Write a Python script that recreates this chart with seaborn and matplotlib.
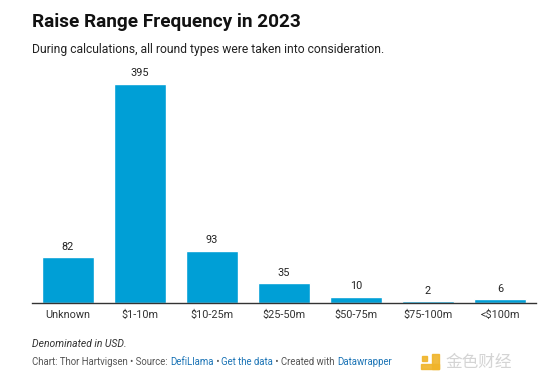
import matplotlib
matplotlib.use("Agg")
import matplotlib.pyplot as plt
import seaborn as sns
import pandas as pd
from matplotlib.patches import Rectangle

categories = ["Unknown", "$1-10m", "$10-25m", "$25-50m", "$50-75m", "$75-100m", "<$100m"]
counts = [82, 395, 93, 35, 10, 2, 6]

df = pd.DataFrame({"range": categories, "count": counts})

sns.set_theme(style="white")
plt.rcParams["font.family"] = ["Roboto", "DejaVu Sans"]

W, H = 541, 379
fig = plt.figure(figsize=(W / 100, H / 100), dpi=100)
ax = fig.add_axes([32 / W, 1 - 302.5 / H, 504 / W, 232.5 / H])

sns.barplot(data=df, x="range", y="count", color="#009fd6", saturation=1, width=0.71, ax=ax)
ax.set_ylim(0, 420.3)
ax.set_xlim(-0.5, len(categories) - 0.5)
ax.set_xlabel("")
ax.set_ylabel("")
ax.set_yticks([])
for s in ["top", "right", "left"]:
    ax.spines[s].set_visible(False)
ax.spines["bottom"].set_color("#333333")
ax.spines["bottom"].set_linewidth(1.0)
ax.tick_params(axis="x", length=0, pad=5.5, labelsize=7.8, colors="#333333")
ax.set_facecolor("white")

for i, v in enumerate(counts):
    ax.annotate(str(v), (i, v), xytext=(0, 4), textcoords="offset points",
                ha="center", va="bottom", fontsize=7.8, color="#222222")

fig.text(32 / W, 1 - 22 / H, "Raise Range Frequency in 2023", fontsize=13.65,
         fontweight="bold", color="#111111", ha="left", va="center")
fig.text(32 / W, 1 - 49 / H, "During calculations, all round types were taken into consideration.",
         fontsize=8.7, color="#222222", ha="left", va="center")
fig.text(32 / W, 1 - 344 / H, "Denominated in USD.", fontsize=7.5, style="italic",
         color="#333333", ha="left", va="center")

# source line with coloured link words
pieces = [("Chart: Thor Hartvigsen \u2022 Source: ", "#555555"),
          ("DefiLlama", "#1a73b5"),
          (" \u2022 ", "#555555"),
          ("Get the data", "#1a73b5"),
          (" \u2022 Created with ", "#555555"),
          ("Datawrapper", "#1a73b5")]
fig.canvas.draw()
renderer = fig.canvas.get_renderer()
x = 32
for txt, col in pieces:
    t = fig.text(x / W, 1 - 362 / H, txt, fontsize=6.9, color=col, ha="left", va="center")
    bb = t.get_window_extent(renderer=renderer)
    x += bb.width

# watermark
fig.patches.append(Rectangle((432 / W, 1 - 369 / H), 7 / W, 15 / H, transform=fig.transFigure,
                             color="#f0b429", alpha=0.9))
fig.patches.append(Rectangle((421 / W, 1 - 369 / H), 18 / W, 5 / H, transform=fig.transFigure,
                             color="#f0b429", alpha=0.9))
fig.patches.append(Rectangle((422 / W, 1 - 361 / H), 5 / W, 5 / H, transform=fig.transFigure,
                             color="#f0b429", alpha=0.9))
fig.text(445 / W, 1 - 362 / H, "金色财经", fontsize=12,
         family=["Noto Sans CJK SC", "DejaVu Sans"], color="#d4d4d4", ha="left", va="center")

fig.savefig("out.png", dpi=100, facecolor="white")
